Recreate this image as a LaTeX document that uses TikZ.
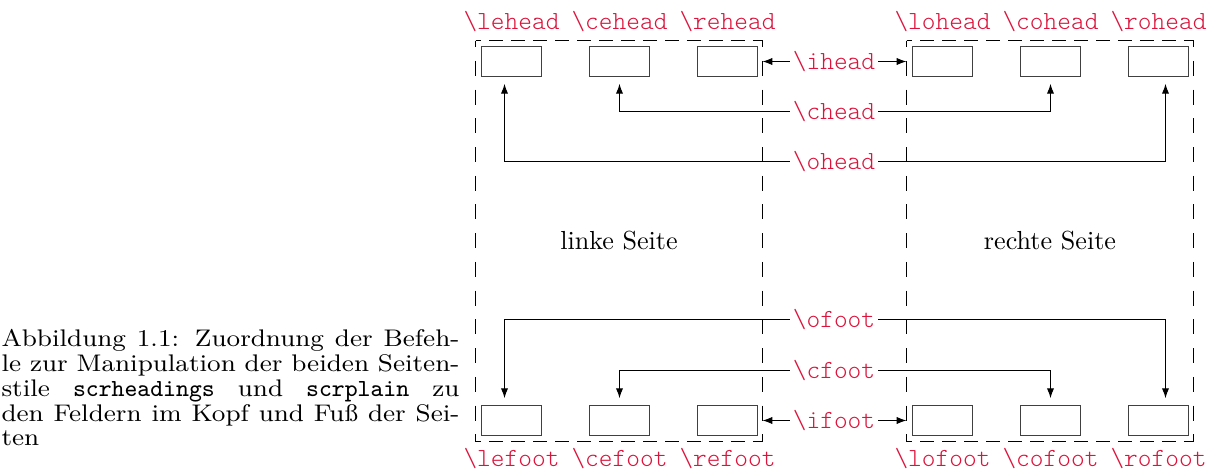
\documentclass[tikz,border=0pt]{standalone}
\usepackage{fontspec}
\newfontfamily\figmono{Latin Modern Mono Light}
\newfontfamily\capfont[FakeStretch=1.1]{Latin Modern Roman}
\usetikzlibrary{arrows.meta}
\definecolor{cmdred}{RGB}{220,20,60}
\begin{document}
\begin{tikzpicture}[x=0.383pt,y=-0.383pt,
  cmd/.style={font=\figmono, text=cmdred, inner sep=1pt},
  fieldbox/.style={draw=black!75, minimum width=22.98pt, minimum height=11.49pt, inner sep=0pt},
  pagebox/.style={minimum width=109.92pt, minimum height=153.58pt, inner sep=0pt, outer sep=0pt},
  hdash/.style={dash pattern=on 5.36pt off 3.06pt, dash phase=3.2pt},
  vdash/.style={dash pattern=on 5.75pt off 5.25pt, dash phase=3.2pt},
  conn/.style={-{Latex[length=3.8pt,width=2.8pt]}},
  captext/.style={anchor=north west, text width=175.4pt, align=justify, inner sep=0pt, font=\fontsize{9.2}{9.5}\capfont}]
\useasboundingbox (0,0) rectangle (1206,473);
\node[pagebox] (lp) at (619,241) {linke Seite};
\node[pagebox] (rp) at (1050,241) {rechte Seite};
\foreach \p in {lp,rp} {
  \draw[hdash] (\p.north west) -- (\p.north east);
  \draw[hdash] (\p.south west) -- (\p.south east);
  \draw[vdash] (\p.north west) -- (\p.south west);
  \draw[vdash] (\p.north east) -- (\p.south east);
}
\foreach \n/\x in {le/511.5, ce/619.5, re/727.5, lo/942.5, co/1050.5, ro/1158.5} {
  \node[fieldbox] (\n h) at (\x,61.5) {};
  \node[fieldbox] (\n f) at (\x,420.5) {};
  \node[cmd, anchor=base] (\n hl) at (\x,29) {\textbackslash\n head};
  \node[cmd, anchor=base] (\n fl) at (\x,466) {\textbackslash\n foot};
}
\node[cmd] (ihead) at (834,61.5) {\textbackslash ihead};
\node[cmd] (chead) at (834,111.5) {\textbackslash chead};
\node[cmd] (ohead) at (834,161.5) {\textbackslash ohead};
\node[cmd] (ofoot) at (834,319.5) {\textbackslash ofoot};
\node[cmd] (cfoot) at (834,370.5) {\textbackslash cfoot};
\node[cmd] (ifoot) at (834,420.5) {\textbackslash ifoot};
\draw[conn] (ihead.west) -- (ihead.west -| lp.east);
\draw[conn] (ihead.east) -- (ihead.east -| rp.west);
\draw[conn] (chead.west) -| ([yshift=-2.6pt]ceh.south);
\draw[conn] (chead.east) -| ([yshift=-2.6pt]coh.south);
\draw[conn] (ohead.west) -| ([xshift=-2.68pt,yshift=-2.6pt]leh.south);
\draw[conn] (ohead.east) -| ([xshift=2.68pt,yshift=-2.6pt]roh.south);
\draw[conn] (ifoot.west) -- (ifoot.west -| lp.east);
\draw[conn] (ifoot.east) -- (ifoot.east -| rp.west);
\draw[conn] (cfoot.west) -| ([yshift=2.6pt]cef.north);
\draw[conn] (cfoot.east) -| ([yshift=2.6pt]cof.north);
\draw[conn] (ofoot.west) -| ([xshift=-2.68pt,yshift=2.6pt]lef.north);
\draw[conn] (ofoot.east) -| ([xshift=2.68pt,yshift=2.6pt]rof.north);
\node[captext] (cap) at (1,329) {Abbildung 1.1: Zuordnung der Befeh-\linebreak le zur Manipulation der beiden Seiten-\linebreak stile {\fontsize{9.4}{9.5}\ttfamily scrheadings} und {\fontsize{9.4}{9.5}\ttfamily scrplain} zu\linebreak den Feldern im Kopf und Fuß der Sei-\linebreak ten};
\end{tikzpicture}
\end{document}
